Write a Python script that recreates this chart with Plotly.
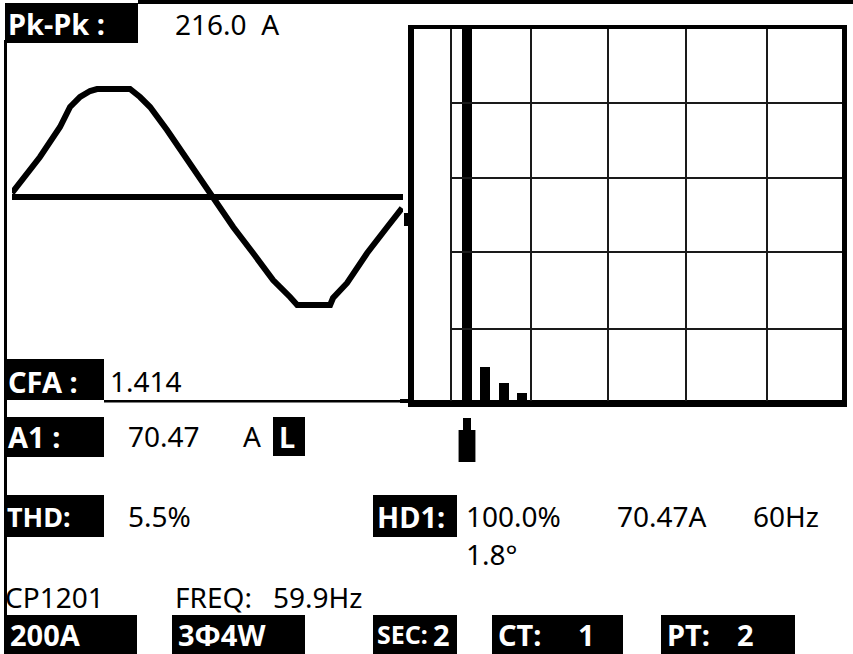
import plotly.graph_objects as go

W, H = 853, 654
FONT = "Noto Sans"

# ---------------- data ----------------
# waveform: time (ms) vs current (A)
wave_t_ms = [0.00, 1.17, 2.01, 2.43, 2.85, 3.27, 3.56, 4.94, 5.36, 5.78, 6.49, 7.33,
             8.38, 9.26, 10.09, 10.93, 11.64, 11.94, 13.32, 13.44, 14.03, 14.87, 15.71, 16.33]
wave_amp_a = [4, 40, 70, 90, 100, 106, 108, 108, 100, 90, 67, 37,
              0, -30, -56, -83, -100, -108, -108, -101, -86, -56, -30, -11]
zero_t_ms = [0.00, 16.37]
zero_amp_a = [0, 0]

# harmonic spectrum (% of fundamental)
harm_order = [1, 2, 3, 4]
harm_pct = [100, 9.4, 5.1, 2.4]
selected_harm = 1

# readouts
pkpk_label, pkpk_value = "Pk-Pk :", "216.0\u00a0\u00a0A"
cfa_label, cfa_value = "CFA :", "1.414"
a1_label, a1_value, a1_unit, a1_flag = "A1 :", "70.47", "A", "L"
thd_label, thd_value = "THD:", "5.5%"
hd_label, hd_pct, hd_amp, hd_freq, hd_phase = "HD1:", "100.0%", "70.47A", "60Hz", "1.8°"
model, freq_label, freq_value = "CP1201", "FREQ:", "59.9Hz"
status_labels = ["200A", "3Φ4W", "SEC:", "CT:", "PT:"]
status_values = ["", "", "2", "1", "2"]

# ---------------- figure ----------------
fig = go.Figure()

# waveform
fig.add_trace(go.Scatter(x=zero_t_ms, y=zero_amp_a, mode="lines", xaxis="x2", yaxis="y2",
                         line=dict(color="black", width=6), cliponaxis=False, hoverinfo="skip"))
fig.add_trace(go.Scatter(x=wave_t_ms, y=wave_amp_a, mode="lines", xaxis="x2", yaxis="y2",
                         line=dict(color="black", width=6), cliponaxis=False, hoverinfo="skip"))
# spectrum
fig.add_trace(go.Bar(x=harm_order, y=harm_pct, xaxis="x3", yaxis="y3", width=0.55,
                     marker=dict(color="black", line=dict(width=0)), hoverinfo="skip"))

shapes = []


def rect(x0, y0, x1, y1, color="black", xref="x", yref="y"):
    shapes.append(dict(type="rect", xref=xref, yref=yref, x0=x0, y0=y0, x1=x1, y1=y1,
                       fillcolor=color, line=dict(width=0), layer="above"))


def hline(y, x0, x1, w=2, color="#1a1a1a"):
    shapes.append(dict(type="line", xref="x", yref="y", x0=x0, x1=x1, y0=y, y1=y,
                       line=dict(color=color, width=w), layer="above"))


def vline(x, y0, y1, w=2, color="#1a1a1a"):
    shapes.append(dict(type="line", xref="x", yref="y", x0=x, x1=x, y0=y0, y1=y1,
                       line=dict(color=color, width=w), layer="above"))


# screen frame
rect(138, 0, W, 4)          # top border
rect(4, 40, 7, 615)         # left border
rect(104, 400, 405, 402.5)  # line under CFA

# label boxes
rect(5, 3, 138, 43)
rect(4, 359, 104, 400)
rect(4, 417, 104, 457)
rect(273, 417, 305, 456)
rect(4, 495, 104, 537)
rect(373, 495, 457, 537)
status_boxes = [(4, 137), (172, 305), (373, 457), (492, 623), (661, 795)]
for bx0, bx1 in status_boxes:
    rect(bx0, 615, bx1, H)

# spectrum frame
rect(408, 25, 847, 29)
rect(408, 25, 414, 407)
rect(842, 25, 847, 407)
rect(408, 400, 847, 407)
rect(404, 213, 409, 226)
rect(400, 399, 408, 403)
for gx in [451, 531, 608, 686, 767]:
    vline(gx, 29, 401)
for gy in [103, 178, 252, 329]:
    hline(gy, 451, 842)

# harmonic cursor below spectrum
rect(selected_harm - 0.22, 418, selected_harm + 0.22, 431, xref="x3")
rect(selected_harm - 0.46, 430, selected_harm + 0.46, 462, xref="x3")

annotations = []


def txt(x, y, s, size=28, color="black", bold=False):
    annotations.append(dict(x=x, y=y, xref="x", yref="y", text=s, showarrow=False,
                            xanchor="left", yanchor="middle",
                            font=dict(family=FONT, size=size, color=color,
                                      weight="bold" if bold else "normal")))


WB = 29  # bold label size
txt(6, 23, pkpk_label, WB, "white", True)
txt(173, 24, pkpk_value)
txt(6, 381, cfa_label, WB, "white", True)
txt(108, 381, cfa_value)
txt(6, 436, a1_label, WB, "white", True)
txt(126, 436, a1_value)
txt(241, 436, a1_unit)
txt(277, 436, a1_flag, WB, "white", True)
txt(5, 516, thd_label, 27, "white", True)
txt(126, 516, thd_value)
txt(375, 516, hd_label, WB, "white", True)
txt(464, 516, hd_pct)
txt(615, 516, hd_amp)
txt(751, 516, hd_freq)
txt(464, 554, hd_phase)
txt(3, 597, model)
txt(173, 597, freq_label)
txt(271, 597, freq_value)
status_lx = [8, 176, 375, 496, 665]
status_vx = [None, None, 431, 576, 735]
status_sz = [WB, WB, 25, WB, WB]
for lab, val, lx, vx, sz in zip(status_labels, status_values, status_lx, status_vx, status_sz):
    txt(lx, 634, lab, sz, "white", True)
    if val:
        txt(vx, 634, val, WB, "white", True)

hidden = dict(visible=False, showgrid=False, zeroline=False, fixedrange=True)
fig.update_layout(
    width=W, height=H, margin=dict(l=0, r=0, t=0, b=0),
    paper_bgcolor="white", plot_bgcolor="rgba(0,0,0,0)", showlegend=False,
    xaxis=dict(range=[0, W], domain=[0, 1], **hidden),
    yaxis=dict(range=[H, 0], domain=[0, 1], **hidden),
    xaxis2=dict(range=[0, 16.37], domain=[12 / W, 403 / W], anchor="y2", **hidden),
    yaxis2=dict(range=[-120, 120], domain=[1 - 317 / H, 1 - 77 / H], anchor="x2", **hidden),
    xaxis3=dict(range=[-2.11, 21.57], domain=[410 / W, 844 / W], anchor="y3", **hidden),
    yaxis3=dict(range=[0, 100], domain=[1 - 402 / H, 1 - 29 / H], anchor="x3", **hidden),
    shapes=shapes, annotations=annotations, bargap=0,
)

fig.write_html("out.html", config={"displayModeBar": False, "staticPlot": True},
               post_script="document.body.style.margin='0';document.body.style.overflow='hidden';")
